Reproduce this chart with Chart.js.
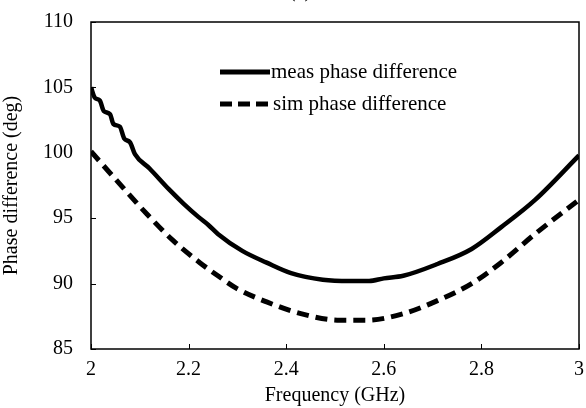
<!DOCTYPE html>
<html lang="en">
<head>
  <meta charset="UTF-8" />
  <title>Phase difference</title>
  <script src="https://cdn.jsdelivr.net/npm/chart.js"></script>
  <style>
    html, body { margin: 0; padding: 0; background: #fff; }
    #wrap { width: 586px; height: 408px; }
  </style>
</head>
<body>
  <div id="wrap"><canvas id="chart" width="586" height="408"></canvas></div>
  <script>
    // values
    const measFreq = [2.000, 2.008, 2.018, 2.026, 2.039, 2.046, 2.059, 2.068, 2.080, 2.090, 2.120, 2.160, 2.190, 2.220, 2.240, 2.260, 2.310, 2.360, 2.410, 2.475, 2.530, 2.570, 2.600, 2.640, 2.710, 2.780, 2.840, 2.910, 3.000];
    const measPhase = [105.0, 104.2, 104.0, 103.2, 102.95, 102.2, 102.0, 101.1, 100.8, 99.9, 98.8, 97.2, 96.1, 95.1, 94.5, 93.8, 92.5, 91.6, 90.8, 90.3, 90.2, 90.2, 90.4, 90.6, 91.5, 92.65, 94.3, 96.4, 99.8];
    const simFreq = [2.000, 2.045, 2.115, 2.168, 2.223, 2.260, 2.300, 2.360, 2.430, 2.510, 2.565, 2.640, 2.710, 2.780, 2.840, 2.910, 3.000];
    const simPhase = [100.1, 98.2, 95.3, 93.3, 91.6, 90.6, 89.6, 88.6, 87.7, 87.2, 87.2, 87.7, 88.7, 90.0, 91.6, 93.8, 96.4];
    const xTicks = [2, 2.2, 2.4, 2.6, 2.8, 3];
    const yTicks = [85, 90, 95, 100, 105, 110];
    const seriesLabels = ['meas phase difference', 'sim phase difference'];

    const serif = "'Liberation Serif', 'Times New Roman', serif";

    // frame, inside ticks, legend and the cut-off "(a)"
    const decor = {
      id: 'decor',
      afterDraw(chart) {
        const { ctx, chartArea: a, scales: { x, y } } = chart;
        ctx.save();
        ctx.strokeStyle = '#000';
        ctx.lineWidth = 1.5;
        ctx.strokeRect(a.left, a.top, a.right - a.left, a.bottom - a.top);
        ctx.lineWidth = 1;
        ctx.beginPath();
        xTicks.forEach(v => {
          const px = Math.round(x.getPixelForValue(v)) + 0.5;
          ctx.moveTo(px, a.bottom); ctx.lineTo(px, a.bottom - 5);
        });
        yTicks.forEach(v => {
          const py = Math.round(y.getPixelForValue(v)) + 0.5;
          ctx.moveTo(a.left, py); ctx.lineTo(a.left + 5, py);
        });
        ctx.stroke();

        // legend
        ctx.lineWidth = 5;
        ctx.strokeStyle = '#000';
        ctx.fillStyle = '#000';
        ctx.font = '21px ' + serif;
        ctx.textBaseline = 'middle';
        ctx.beginPath();
        ctx.setLineDash([]);
        ctx.moveTo(220, 72); ctx.lineTo(270, 72);
        ctx.stroke();
        ctx.fillText(seriesLabels[0], 271, 72);
        ctx.beginPath();
        ctx.setLineDash([12, 6]);
        ctx.moveTo(220, 104); ctx.lineTo(272, 104);
        ctx.stroke();
        ctx.setLineDash([]);
        ctx.fillText(seriesLabels[1], 273, 104);

        ctx.textAlign = 'center';
        ctx.font = '20px ' + serif;
        ctx.fillText('(a)', 300, -8);
        ctx.restore();
      }
    };

    new Chart(document.getElementById('chart'), {
      type: 'scatter',
      data: {
        datasets: [
          {
            label: seriesLabels[0],
            data: measFreq.map((f, i) => ({ x: f, y: measPhase[i] })),
            showLine: true,
            borderColor: '#000',
            borderWidth: 4.5,
            pointRadius: 0,
            cubicInterpolationMode: 'monotone'
          },
          {
            label: seriesLabels[1],
            data: simFreq.map((f, i) => ({ x: f, y: simPhase[i] })),
            showLine: true,
            borderColor: '#000',
            borderWidth: 5,
            borderDash: [12, 7],
            pointRadius: 0,
            cubicInterpolationMode: 'monotone'
          }
        ]
      },
      options: {
        responsive: false,
        animation: false,
        layout: { padding: { top: 19, right: 7, left: 0, bottom: 0 } },
        plugins: {
          legend: { display: false },
          tooltip: { enabled: false }
        },
        scales: {
          x: {
            type: 'linear',
            min: 2, max: 3,
            afterBuildTicks: s => { s.ticks = xTicks.map(v => ({ value: v })); },
            afterFit: s => { s.height = 59; },
            grid: { display: false },
            border: { display: false },
            ticks: {
              color: '#000',
              font: { family: serif, size: 20 },
              padding: 1,
              maxRotation: 0,
              callback: v => String(v)
            },
            title: {
              display: true,
              text: 'Frequency (GHz)',
              color: '#000',
              font: { family: serif, size: 20 },
              padding: { top: 2, bottom: 0 }
            }
          },
          y: {
            type: 'linear',
            min: 85, max: 110,
            afterBuildTicks: s => { s.ticks = yTicks.map(v => ({ value: v })); },
            afterFit: s => { s.width = 91; },
            grid: { display: false },
            border: { display: false },
            ticks: {
              color: '#000',
              font: { family: serif, size: 20 },
              padding: 10,
              callback: v => String(v)
            },
            title: {
              display: true,
              text: 'Phase difference (deg)',
              color: '#000',
              font: { family: serif, size: 20 },
              padding: { top: 0, bottom: 0 }
            }
          }
        }
      },
      plugins: [decor]
    });
  </script>
</body>
</html>
